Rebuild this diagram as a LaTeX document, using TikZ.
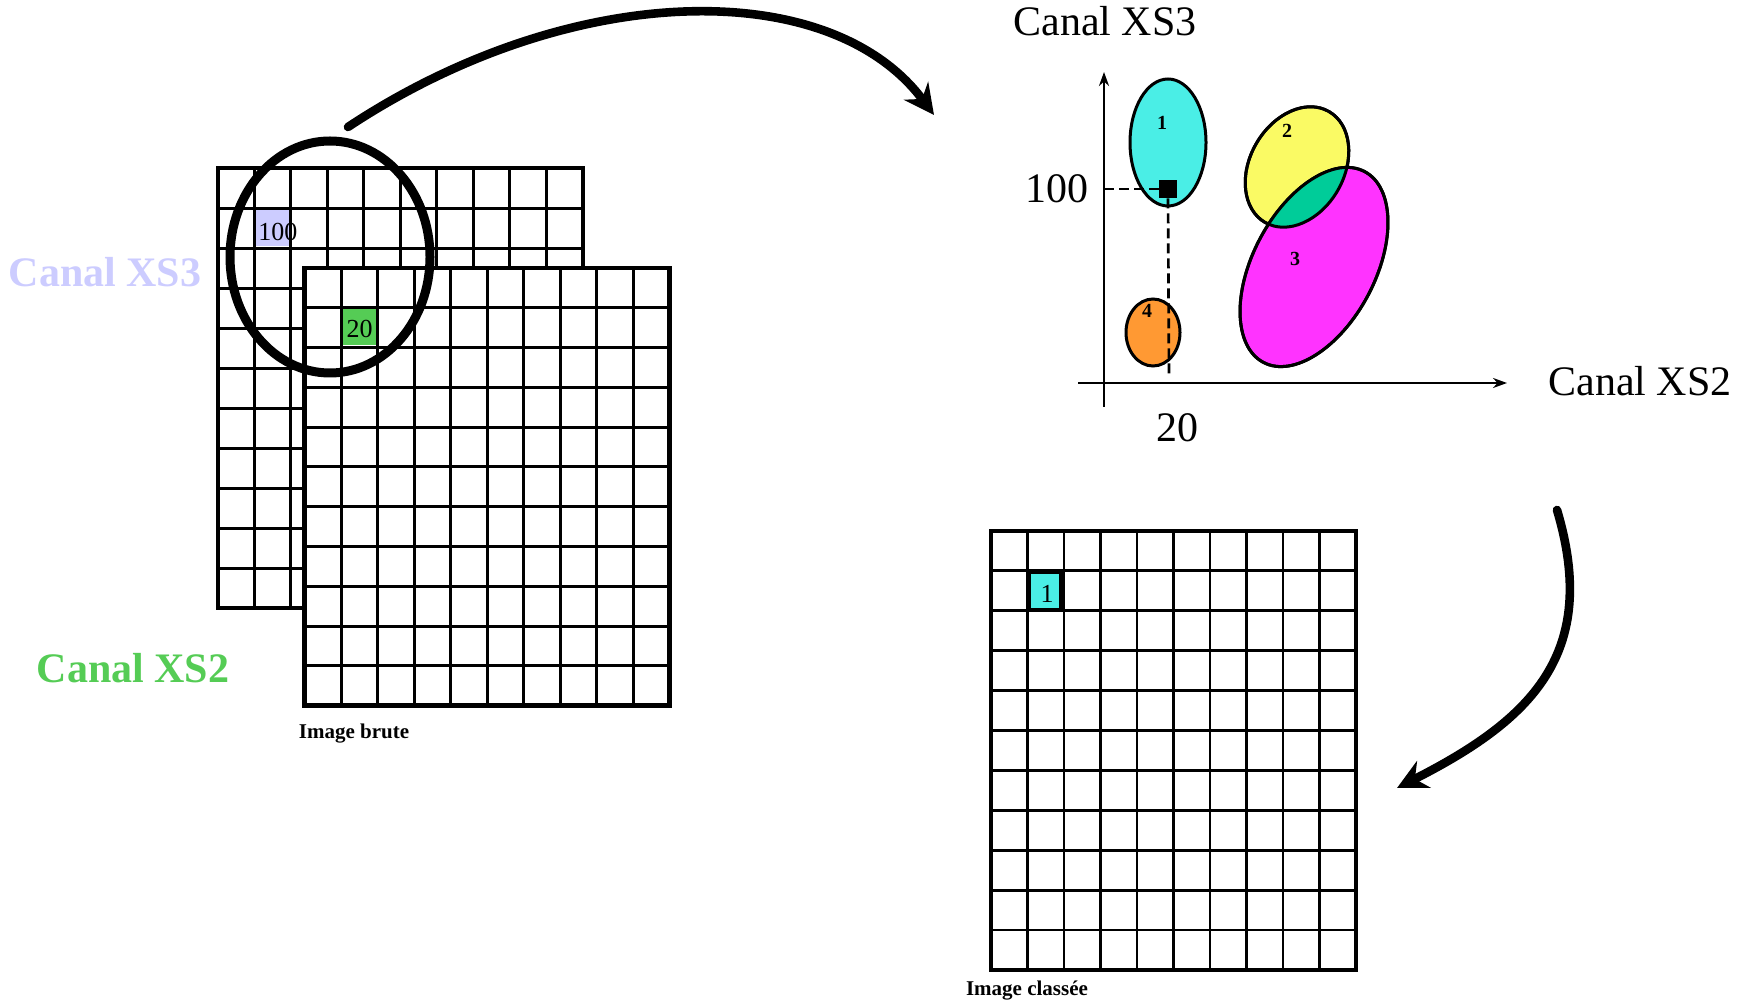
\documentclass[tikz,border=0pt]{standalone}
\usepackage{fontspec}
\setmainfont{Liberation Serif}
\usetikzlibrary{arrows.meta}

\definecolor{lavande}{RGB}{204,204,255}
\definecolor{vertcanal}{RGB}{85,204,85}
\definecolor{turquoise}{RGB}{74,238,230}
\definecolor{jaune}{RGB}{250,250,100}
\definecolor{magentac}{RGB}{255,51,255}
\definecolor{vertbleu}{RGB}{0,204,153}
\definecolor{orangec}{RGB}{255,153,51}

\tikzset{
  gridline/.style={line width=1.45pt},
  gridborder/.style={line width=2pt},
  bigarrow/.style={line width=4.3pt,line cap=round,-{Stealth[length=15pt,width=15pt,inset=5pt]}},
  axisline/.style={line width=1.3pt,-{Stealth[length=7pt,width=5pt]}},
  dashline/.style={line width=1.35pt,dash pattern=on 5pt off 2.5pt},
  cluster/.style={line width=1.5pt},
  biglabel/.style={font=\fontsize{21pt}{25pt}\selectfont},
  chanlabel/.style={font=\bfseries\fontsize{21pt}{25pt}\selectfont},
  caption/.style={font=\bfseries\fontsize{10.5pt}{12pt}\selectfont},
  celllabel/.style={font=\fontsize{13pt}{15pt}\selectfont,inner sep=0pt},
  clusterlab/.style={font=\bfseries\fontsize{10pt}{12pt}\selectfont,inner sep=0pt}
}

\begin{document}
\begin{tikzpicture}[x=0.5pt,y=-0.5pt]
\useasboundingbox (0,0) rectangle (1750,1004);

% canal XS3 (grille du fond)
\begin{scope}[shift={(217.6,168.5)}]
\fill[lavande] (37,41) rectangle (71,78);
\foreach \i in {1,...,9} \draw[gridline] (\i*36.5,0) -- (\i*36.5,440);
\foreach \j in {1,...,10} \draw[gridline] (0,\j*40) -- (365,\j*40);
\draw[gridborder] (0,0) rectangle (365,440);
\end{scope}
\node[celllabel,anchor=west] (v100) at (258,232) {100};

% canal XS2 (grille devant)
\begin{scope}[shift={(304.7,267.9)}]
\fill[white] (0,0) rectangle (365,437.8);
\fill[vertcanal] (37,41) rectangle (71,77.5);
\foreach \i in {1,...,9} \draw[gridline] (\i*36.5,0) -- (\i*36.5,437.8);
\foreach \j in {1,...,10} \draw[gridline] (0,\j*39.8) -- (365,\j*39.8);
\draw[gridborder,line width=2.3pt] (0,0) rectangle (365,437.8);
\node[celllabel] (v20) at (55,61) {20};
\end{scope}

% image classee
\begin{scope}[shift={(991,531)}]
\foreach \i in {1,...,9} \draw[gridline] (\i*36.5,0) -- (\i*36.5,438.9);
\foreach \j in {1,...,10} \draw[gridline] (0,\j*39.9) -- (365,\j*39.9);
\draw[gridborder] (0,0) rectangle (365,438.9);
\filldraw[fill=turquoise,line width=1.8pt] (38.5,41.2) rectangle (69.8,78.8);
\node[celllabel] (v1) at (56,63) {1};
\end{scope}

\node[chanlabel,text=lavande] (lab3) at (105,272) {Canal XS3};
\node[chanlabel,text=vertcanal] (lab2) at (133,668) {Canal XS2};
\node[caption] (brute) at (354,734) {Image brute};
\node[caption] (classee) at (1027,991) {Image classée};

% loupe et fleches
\draw[line width=4.5pt] (330,257) ellipse [x radius=100, y radius=116];
\coordinate (s1) at (348,127);
\coordinate (e1) at (934,115);
\draw[bigarrow] (s1) .. controls (570,-20) and (830,-25) .. (e1);
\coordinate (s2) at (1557,510);
\coordinate (e2) at (1397,788);
\draw[bigarrow] (s2) .. controls (1600,654) and (1531,720) .. (e2);

% espace XS2 / XS3
\coordinate (c1) at (1168,142.5);
\coordinate (c2) at (1297,167);
\coordinate (c3) at (1314,267);
\coordinate (c4) at (1153,332.5);
\filldraw[cluster,fill=turquoise] (c1) ellipse [x radius=38, y radius=63.5];
\filldraw[cluster,fill=orangec] (c4) ellipse [x radius=27, y radius=33.5];
\filldraw[cluster,fill=jaune,rotate around={60:(c2)}] (c2) ellipse [x radius=64, y radius=47];
\filldraw[cluster,fill=magentac,rotate around={62:(c3)}] (c3) ellipse [x radius=108, y radius=61];
\begin{scope}
\clip[rotate around={60:(c2)}] (c2) ellipse [x radius=64, y radius=47];
\fill[vertbleu,rotate around={62:(c3)}] (c3) ellipse [x radius=108, y radius=61];
\end{scope}
\draw[cluster,rotate around={60:(c2)}] (c2) ellipse [x radius=64, y radius=47];
\draw[cluster,rotate around={62:(c3)}] (c3) ellipse [x radius=108, y radius=61];
\node[clusterlab] (n1) at (1162,123) {1};
\node[clusterlab] (n2) at (1287,131) {2};
\node[clusterlab] (n3) at (1295,259) {3};
\node[clusterlab] (n4) at (1147,311) {4};

\coordinate (yb) at (1104,407);
\coordinate (yt) at (1104,72);
\coordinate (xl) at (1078,383);
\coordinate (xr) at (1507,383);
\draw[axisline] (yb) -- (yt);
\draw[axisline] (xl) -- (xr);

\node[fill=black,inner sep=0pt,minimum size=9pt] (pix) at (1168,189) {};
\coordinate (py) at (1104,189);
\coordinate (px) at (1169,376);
\draw[dashline] (py) -- (pix.west);
\draw[dashline] (pix.south) -- (px);

\node[biglabel] (ax3) at (1105,21) {Canal XS3};
\node[biglabel] (ax2) at (1640,381) {Canal XS2};
\node[biglabel] (t100) at (1057,189) {100};
\node[biglabel] (t20) at (1177,428) {20};
\end{tikzpicture}
\end{document}
